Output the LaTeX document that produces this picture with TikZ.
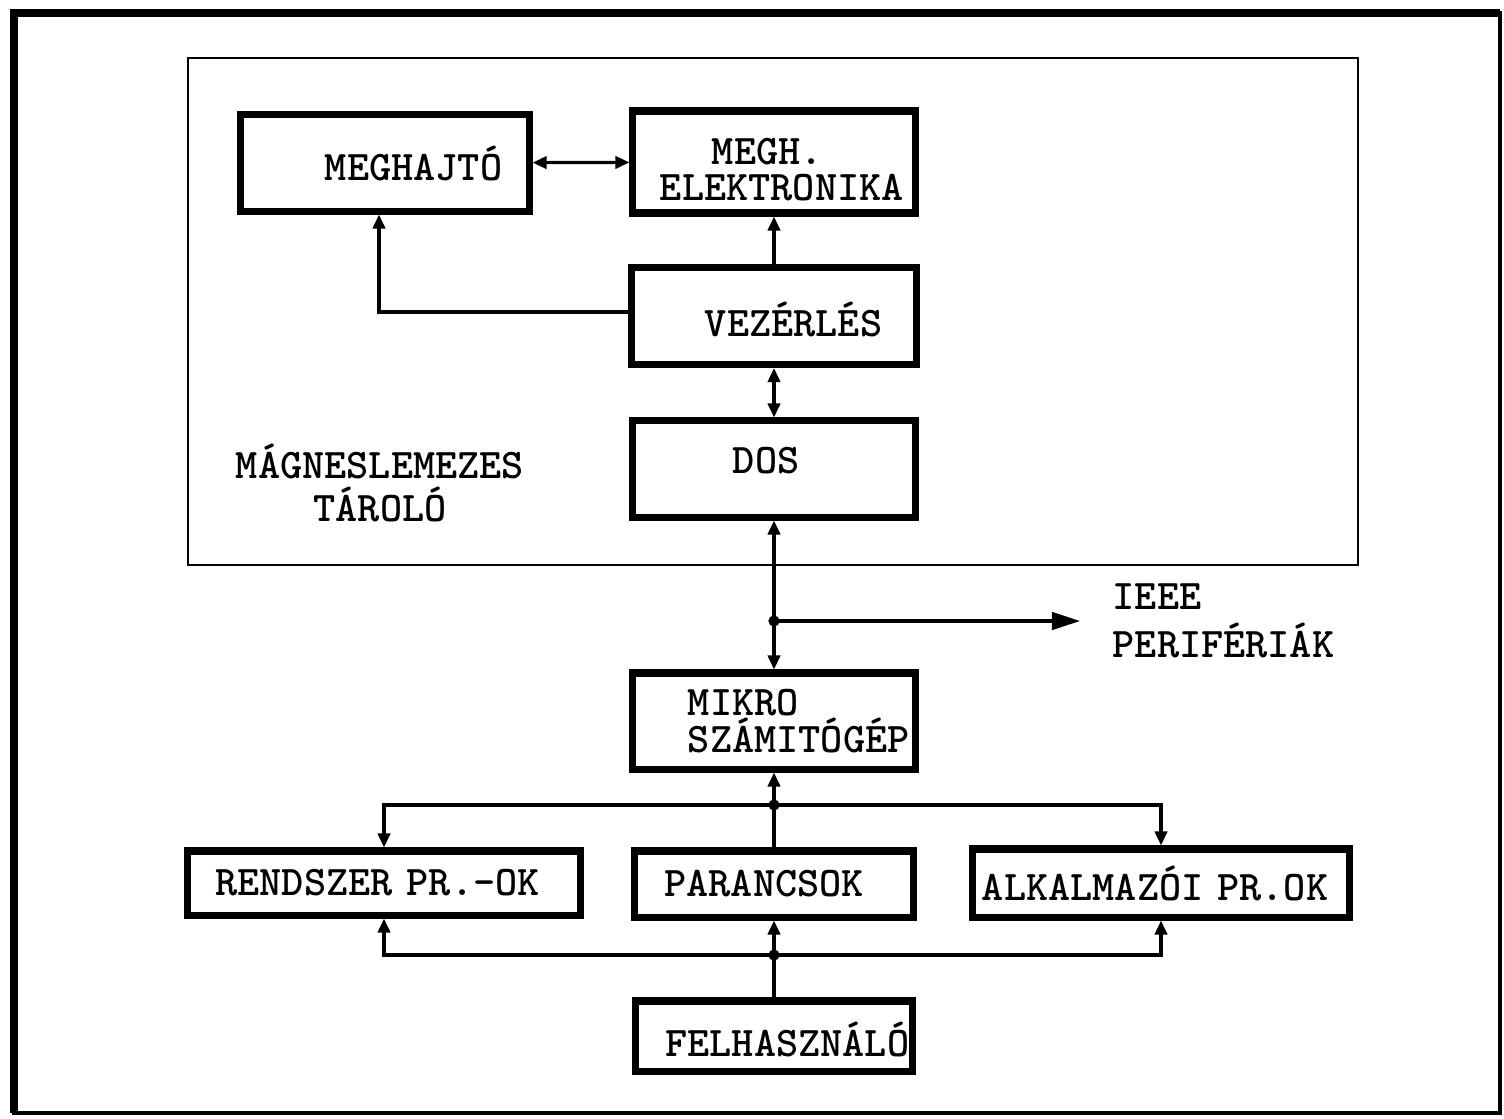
\documentclass[tikz,border=0pt]{standalone}
\usetikzlibrary{arrows.meta}
\newcommand{\tw}{\ttfamily\bfseries\fontsize{12}{14}\selectfont}

\begin{document}
\begin{tikzpicture}[x=0.01cm,y=-0.01cm]
\tikzstyle{blk}=[draw,line width=2pt,inner xsep=0pt,align=left,font=\tw]
\tikzstyle{txt}=[font=\tw,inner sep=0pt]
\tikzstyle{ln}=[line width=0.9pt]
\tikzstyle{arr}=[ln,-{Triangle[length=4pt,width=3.5pt]}]
\tikzstyle{dbl}=[ln,{Triangle[length=4pt,width=3.5pt]}-{Triangle[length=4pt,width=3.5pt]}]
\tikzstyle{bigarr}=[ln,-{Triangle[length=8pt,width=5pt]}]
\useasboundingbox (0,0) rectangle (1504,1118);
% frame of the page
\draw[line width=1pt] (14,13) rectangle (1500,1113);
\draw[line width=2pt] (14,1113) -- (14,13) -- (1500,13);
% disk storage unit
\draw[line width=0.8pt] (188,58) rectangle (1358,565);
\node[txt,align=center] (tarolo) at (380,483) {MÁGNESLEMEZES\\[-1.8pt]TÁROLÓ};
% boxes
\node[blk,text width=2.88cm,minimum height=0.96cm] (drv) at (385,163) {\hspace*{0.84cm}MEGHAJTÓ};
\node[blk,text width=2.82cm,minimum height=0.98cm] (elec) at (774,162) {\rule{0pt}{12pt}\hspace*{0.79cm}MEGH.\\[-3.8pt]\hspace*{0.27cm}ELEKTRONIKA};
\node[blk,text width=2.84cm,minimum height=0.97cm] (vez) at (774,316) {\rule{0pt}{12pt}\hspace*{0.73cm}VEZÉRLÉS};
\node[blk,text width=2.82cm,minimum height=0.96cm] (dos) at (774,469) {\rule[-5pt]{0pt}{5pt}\hspace*{1.0cm}DOS};
\node[blk,text width=2.82cm,minimum height=0.96cm] (mikro) at (774,721) {\hspace*{0.55cm}MIKRO\\[-3.5pt]\hspace*{0.55cm}SZÁMITÓGÉP};
\node[blk,text width=3.93cm,minimum height=0.64cm] (rend) at (384,883) {\hspace*{0.28cm}RENDSZER PR.-OK};
\node[blk,text width=2.79cm,minimum height=0.66cm] (par) at (774,884) {\hspace*{0.3cm}PARANCSOK};
\node[blk,text width=3.76cm,minimum height=0.68cm] (alk) at (1161,883) {\hspace*{0.09cm}ALKALMAZÓI PR.OK};
\node[blk,text width=2.77cm,minimum height=0.70cm] (fel) at (774,1036) {\rule{0pt}{12pt}\hspace*{0.3cm}FELHASZNÁLÓ};
\node[txt,align=left,anchor=west] (perif) at (1112,621) {IEEE\\[-0.3pt]PERIFÉRIÁK};
% junctions
\coordinate (j0) at (774,621);
\coordinate (j1) at (774,805);
\coordinate (j2) at (774,955);
\coordinate (ieee) at (1080,621);
% connections
\draw[dbl] (drv) -- (elec);
\draw[arr] (vez) -- (elec);
\draw[arr] ([yshift=0.04cm]vez.west) -| ([xshift=-0.06cm]drv.south);
\draw[dbl] (vez) -- (dos);
\draw[dbl] (dos) -- (mikro);
\draw[bigarr] (j0) -- (ieee);
\draw[arr] (j1) -- (mikro);
\draw[arr] (j1) -| (rend.north);
\draw[arr] (j1) -| (alk.north);
\draw[ln] (j1) -- (par);
\draw[arr] (j2) -| (rend.south);
\draw[arr] (j2) -| (alk.south);
\draw[arr] (j2) -- (par);
\draw[ln] (fel) -- (j2);
\fill (j0) circle (1.6pt) (j1) circle (1.6pt) (j2) circle (1.6pt);
\end{tikzpicture}
\end{document}
